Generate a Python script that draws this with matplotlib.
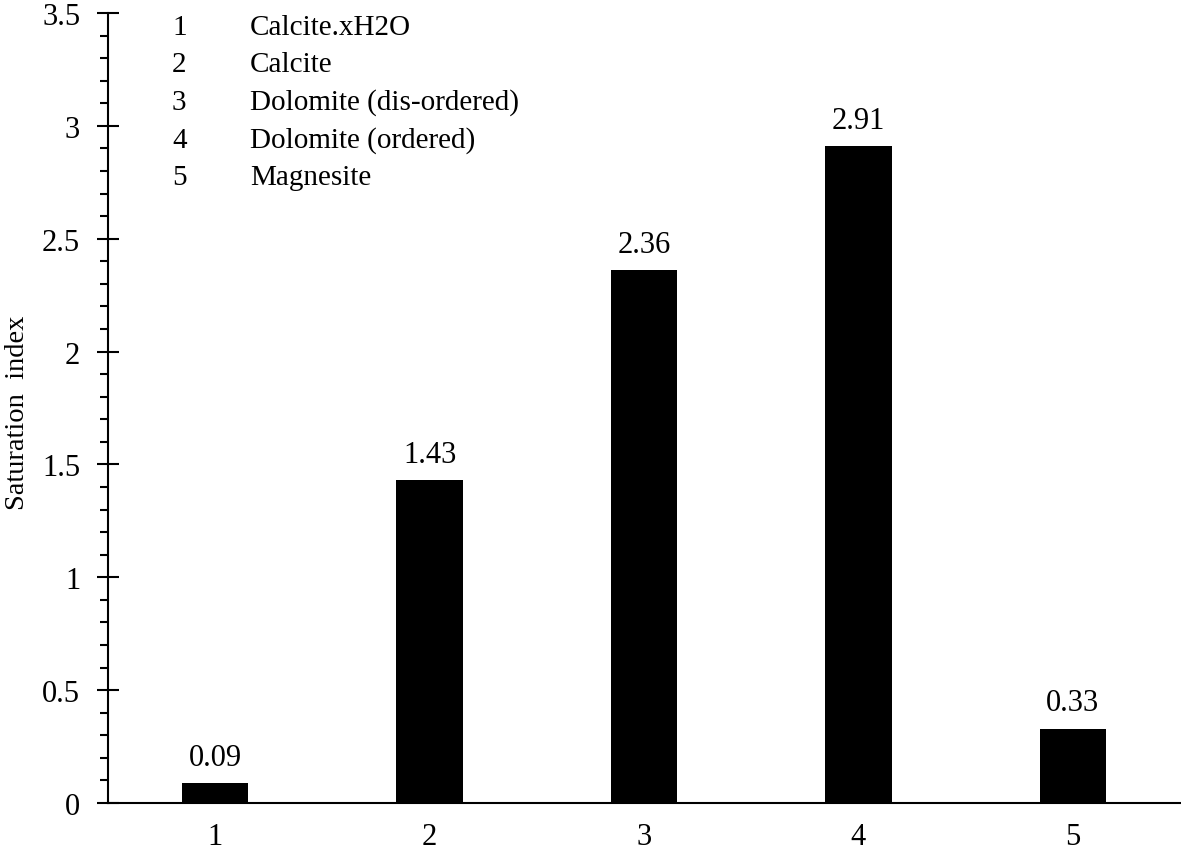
import matplotlib
matplotlib.use("Agg")
import matplotlib.pyplot as plt

categories = [1, 2, 3, 4, 5]
names = ["Calcite.xH2O", "Calcite", "Dolomite (dis-ordered)", "Dolomite (ordered)", "Magnesite"]
values = [0.09, 1.43, 2.36, 2.91, 0.33]
value_labels = ["0.09", "1.43", "2.36", "2.91", "0.33"]
yticks = [0, 0.5, 1, 1.5, 2, 2.5, 3, 3.5]
ytick_labels = ["0", "0.5", "1", "1.5", "2", "2.5", "3", "3.5"]
yminor = [i / 10 for i in range(36)]

plt.rcParams['font.family'] = ['Liberation Serif', 'DejaVu Serif']

fig = plt.figure(figsize=(11.81, 8.54), dpi=100)
ax = fig.add_axes([108/1181, 50/854, (1180-108)/1181, (804-14)/854])

ax.bar(categories, values, width=0.31, color='black')
for x, v, lab in zip(categories, values, value_labels):
    ax.annotate(lab, (x, v), xytext=(0, 8), textcoords='offset points',
                ha='center', va='bottom', fontsize=22)

ax.set_xlim(0.5, 5.5)
ax.set_ylim(0, 3.5)
ax.set_xticks(categories)
ax.set_xticklabels([str(c) for c in categories], fontsize=22)
ax.set_yticks(yticks)
ax.set_yticklabels(ytick_labels, fontsize=22)
ax.set_yticks(yminor, minor=True)
ax.tick_params(axis='y', which='major', direction='inout', length=16, width=1.5, pad=12)
ax.tick_params(axis='y', which='minor', direction='out', length=6, width=1.5)
ax.tick_params(axis='x', which='both', length=0, pad=14)
ax.set_ylabel("Saturation  index", fontsize=20.5)
ax.yaxis.label.set_verticalalignment('center')
ax.yaxis.set_label_coords((18-108)/1072, 0.495)

for s in ['top', 'right']:
    ax.spines[s].set_visible(False)
for s in ['left', 'bottom']:
    ax.spines[s].set_linewidth(1.5)

for i, (c, n) in enumerate(zip(categories, names)):
    y = 28 + i * 37.5
    fig.text(172/1181, 1 - y/854, str(c), fontsize=21, ha='left', va='center')
    fig.text(250/1181, 1 - y/854, n, fontsize=21, ha='left', va='center')

fig.savefig("out.png", dpi=100)
